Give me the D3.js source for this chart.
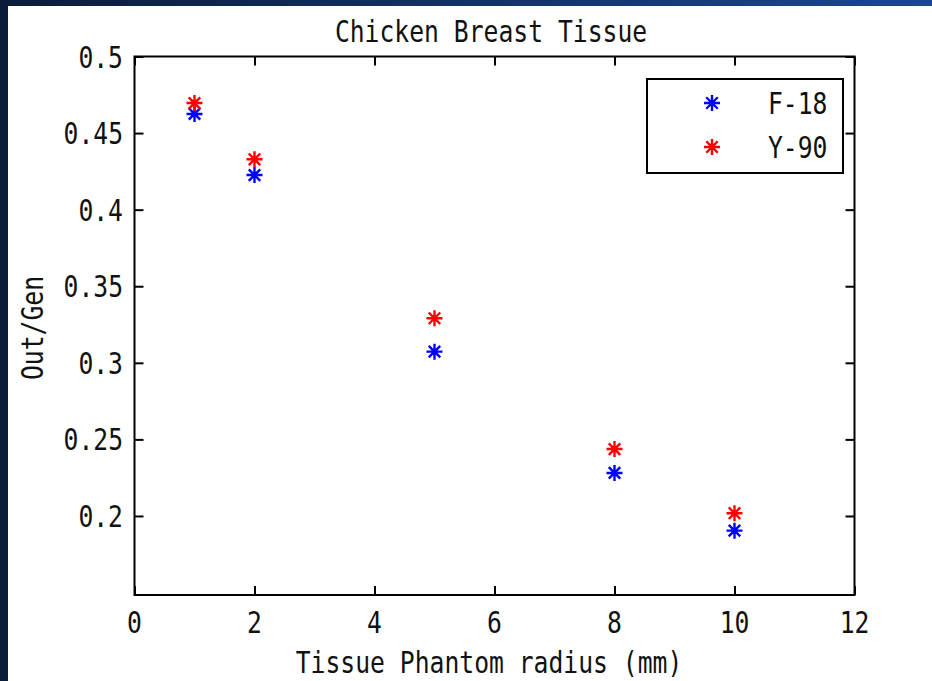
<!DOCTYPE html>
<html>
<head>
<meta charset="utf-8">
<script src="https://cdn.jsdelivr.net/npm/d3@7"></script>
<style>
  html, body { margin: 0; padding: 0; background: #0b1f3e; }
  svg { display: block; }
</style>
</head>
<body>
<svg id="chart" width="932" height="681"></svg>
<script>
// Phantom radii (mm) and output/generated ratios for each isotope
const radii = [1, 2, 5, 8, 10];
const f18 = [0.4625, 0.4226, 0.3073, 0.2281, 0.1904];
const y90 = [0.4696, 0.4329, 0.3291, 0.2437, 0.2018];
const seriesNames = ["F-18", "Y-90"];
const seriesColors = ["#0000ff", "#ff0000"];
const xTicks = [0, 2, 4, 6, 8, 10, 12];
const yTicks = [0.2, 0.25, 0.3, 0.35, 0.4, 0.45, 0.5];
const yTickLabels = ["0.2", "0.25", "0.3", "0.35", "0.4", "0.45", "0.5"];
const titleText = "Chicken Breast Tissue";
const xLabelText = "Tissue Phantom radius (mm)";
const yLabelText = "Out/Gen";

const svg = d3.select("#chart");
const W = 932, H = 681;

// slide backdrop
const defs = svg.append("defs");
const grad = defs.append("linearGradient").attr("id", "bg")
  .attr("x1", "0%").attr("y1", "0%").attr("x2", "100%").attr("y2", "0%");
grad.append("stop").attr("offset", "0%").attr("stop-color", "#0a1c3a");
grad.append("stop").attr("offset", "100%").attr("stop-color", "#1b4790");
svg.append("rect").attr("width", W).attr("height", H).attr("fill", "url(#bg)");

// figure canvas
svg.append("rect").attr("x", 8).attr("y", 6).attr("width", W - 8).attr("height", H - 6)
  .attr("fill", "#ffffff");

const plotL = 134.5, plotR = 854.5, plotT = 56.5, plotB = 595;
const x = d3.scaleLinear().domain([0, 12]).range([plotL, plotR]);
const y = d3.scaleLinear().domain([0.1484, 0.5]).range([plotB, plotT]);

const FONT = "'DejaVu Sans Mono', monospace";
const FS = 24.7, SY = 1.22;

// text helper: monospace glyphs stretched vertically
function label(g, tx, ty, str, anchor, rotate) {
  return g.append("text")
    .attr("transform", `translate(${tx},${ty})${rotate ? " rotate(" + rotate + ")" : ""} scale(1,${SY})`)
    .attr("text-anchor", anchor)
    .attr("font-family", FONT)
    .attr("font-size", FS)
    .attr("fill", "#111")
    .text(str);
}

const g = svg.append("g");

// axes box and inward ticks on all sides
const tickLen = 9;
const xAxisB = d3.axisBottom(x).tickValues(xTicks).tickSize(-tickLen).tickFormat("");
const xAxisT = d3.axisTop(x).tickValues(xTicks).tickSize(-tickLen).tickFormat("");
const yAxisL = d3.axisLeft(y).tickValues(yTicks).tickSize(-tickLen).tickFormat("");
const yAxisR = d3.axisRight(y).tickValues(yTicks).tickSize(-tickLen).tickFormat("");

function styleAxis(sel) {
  sel.select(".domain").remove();
  sel.selectAll(".tick line").attr("stroke", "#000").attr("stroke-width", 2);
}
g.append("g").attr("transform", `translate(0,${plotB})`).call(xAxisB).call(styleAxis);
g.append("g").attr("transform", `translate(0,${plotT})`).call(xAxisT).call(styleAxis);
g.append("g").attr("transform", `translate(${plotL},0)`).call(yAxisL).call(styleAxis);
g.append("g").attr("transform", `translate(${plotR},0)`).call(yAxisR).call(styleAxis);

g.append("rect").attr("x", plotL).attr("y", plotT)
  .attr("width", plotR - plotL).attr("height", plotB - plotT)
  .attr("fill", "none").attr("stroke", "#000").attr("stroke-width", 2);

// tick labels
xTicks.forEach(t => label(g, x(t), 633, String(t), "middle"));
yTicks.forEach((t, i) => label(g, 123, y(t) + 11, yTickLabels[i], "end"));

// titles
label(g, 491, 42, titleText, "middle");
label(g, 489, 673, xLabelText, "middle");
label(g, 43, 328, yLabelText, "middle", -90);

// asterisk marker path
function asterisk(r) {
  const d = r * 0.72;
  return `M${-r},0L${r},0M0,${-r}L0,${r}M${-d},${-d}L${d},${d}M${-d},${d}L${d},${-d}`;
}

const series = [f18, y90];
series.forEach((vals, si) => {
  g.append("g").selectAll("path")
    .data(radii.map((r, i) => [r, vals[i]]))
    .join("path")
    .attr("transform", d => `translate(${x(d[0])},${y(d[1])})`)
    .attr("d", asterisk(8))
    .attr("stroke", seriesColors[si])
    .attr("stroke-width", 2.4)
    .attr("fill", "none");
});

// legend
const lg = g.append("g");
lg.append("rect").attr("x", 647).attr("y", 79).attr("width", 196).attr("height", 94)
  .attr("fill", "#fff").attr("stroke", "#000").attr("stroke-width", 2);
seriesNames.forEach((name, i) => {
  const cy = 103 + i * 44;
  lg.append("path").attr("transform", `translate(712,${cy})`)
    .attr("d", asterisk(8)).attr("stroke", seriesColors[i])
    .attr("stroke-width", 2.4).attr("fill", "none");
  label(lg, 768, cy + 11, name, "start");
});
</script>
</body>
</html>
